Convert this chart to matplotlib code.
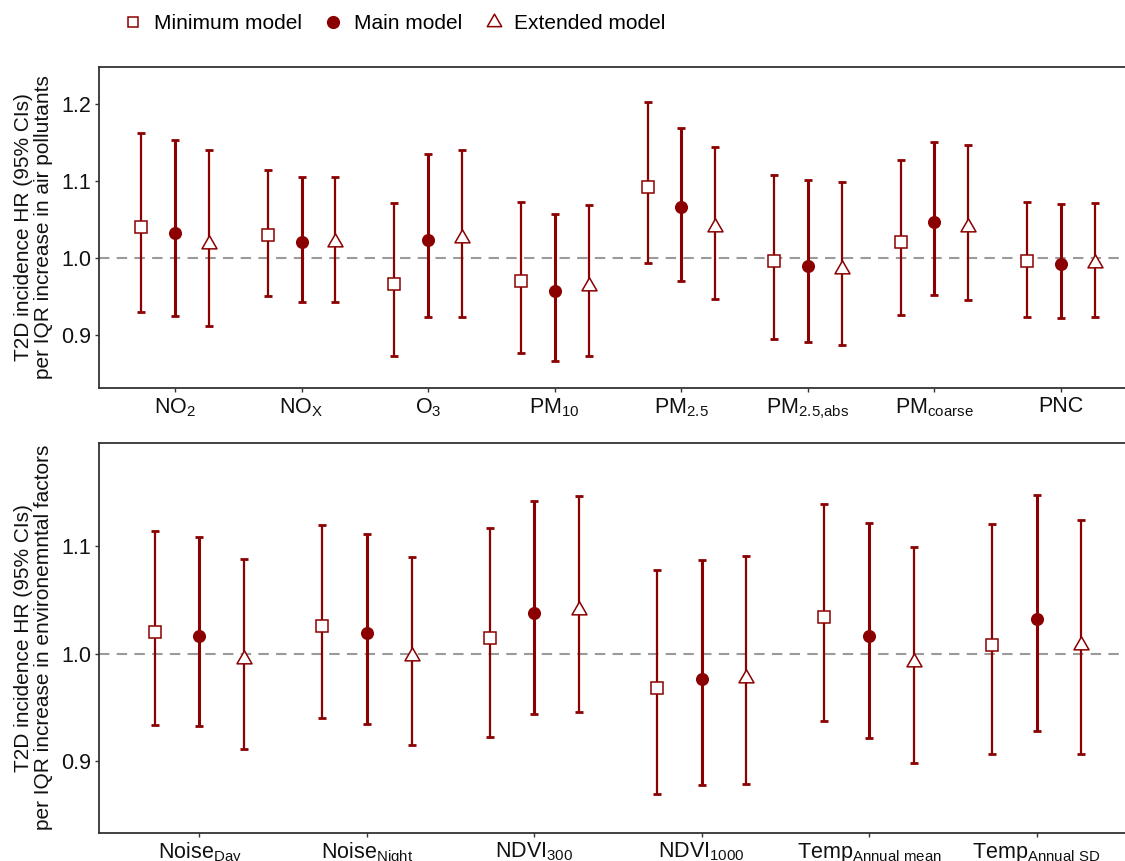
import numpy as np
import matplotlib.pyplot as plt
from matplotlib.lines import Line2D
from matplotlib.path import Path

plt.rcParams['font.family'] = ['Liberation Sans', 'DejaVu Sans']
plt.rcParams['mathtext.fontset'] = 'custom'
plt.rcParams['mathtext.rm'] = 'Liberation Sans'
plt.rcParams['mathtext.it'] = 'Liberation Sans'

# ---- air pollutants (top panel) ----
air_labels = [r'$\mathregular{NO_2}$', r'$\mathregular{NO_X}$', r'$\mathregular{O_3}$',
              r'$\mathregular{PM_{10}}$', r'$\mathregular{PM_{2.5}}$', r'$\mathregular{PM_{2.5{,}abs}}$',
              r'$\mathregular{PM_{coarse}}$', 'PNC']
air_min = [1.040, 1.030, 0.967, 0.970, 1.093, 0.996, 1.021, 0.996]
air_min_lo = [0.930, 0.951, 0.873, 0.877, 0.994, 0.895, 0.926, 0.924]
air_min_hi = [1.163, 1.115, 1.072, 1.073, 1.202, 1.108, 1.127, 1.073]
air_main = [1.033, 1.021, 1.024, 0.958, 1.066, 0.990, 1.047, 0.993]
air_main_lo = [0.925, 0.944, 0.924, 0.867, 0.971, 0.892, 0.952, 0.923]
air_main_hi = [1.154, 1.105, 1.135, 1.058, 1.169, 1.102, 1.151, 1.070]
air_ext = [1.019, 1.021, 1.026, 0.964, 1.040, 0.986, 1.040, 0.994]
air_ext_lo = [0.912, 0.944, 0.924, 0.873, 0.947, 0.888, 0.946, 0.924]
air_ext_hi = [1.141, 1.106, 1.140, 1.069, 1.144, 1.099, 1.147, 1.072]

# ---- environmental factors (bottom panel) ----
env_labels = [r'$\mathregular{Noise_{Day}}$', r'$\mathregular{Noise_{Night}}$',
              r'$\mathregular{NDVI_{300}}$', r'$\mathregular{NDVI_{1000}}$',
              r'$\mathregular{Temp_{Annual\ mean}}$', r'$\mathregular{Temp_{Annual\ SD}}$']
env_min = [1.020, 1.026, 1.015, 0.968, 1.034, 1.008]
env_min_lo = [0.934, 0.940, 0.923, 0.870, 0.938, 0.907]
env_min_hi = [1.114, 1.120, 1.117, 1.078, 1.139, 1.121]
env_main = [1.017, 1.019, 1.038, 0.977, 1.017, 1.032]
env_main_lo = [0.933, 0.935, 0.944, 0.878, 0.922, 0.928]
env_main_hi = [1.109, 1.111, 1.142, 1.087, 1.122, 1.148]
env_ext = [0.995, 0.998, 1.041, 0.978, 0.992, 1.008]
env_ext_lo = [0.912, 0.915, 0.946, 0.879, 0.899, 0.907]
env_ext_hi = [1.088, 1.090, 1.147, 1.091, 1.099, 1.124]

red = '#8B0000'
tri = Path([(-1, -0.577), (1, -0.577), (0, 1.155), (-1, -0.577)],
           [Path.MOVETO, Path.LINETO, Path.LINETO, Path.CLOSEPOLY])
dodge = 0.267


def draw_panel(ax, labels, series, ylim, yticks, ylabel):
    x = np.arange(1, len(labels) + 1)
    ax.axhline(1.0, color='#9a9a9a', lw=1.5, ls=(0, (5, 3.5)), zorder=1)
    styles = [
        dict(offset=-dodge, marker='s', ms=8.6, mfc='white', lw=1.6),
        dict(offset=0.0, marker='o', ms=8.3, mfc=red, lw=2.2),
        dict(offset=dodge, marker=tri, ms=12.5, mfc='white', lw=1.6),
    ]
    for (est, lo, hi), st in zip(series, styles):
        est = np.array(est)
        err = [est - np.array(lo), np.array(hi) - est]
        ax.errorbar(x + st['offset'], est, yerr=err, fmt='none', ecolor=red,
                    elinewidth=st['lw'], capsize=3.2, capthick=2.0, zorder=2)
        ax.plot(x + st['offset'], est, ls='none', marker=st['marker'], ms=st['ms'],
                mfc=st['mfc'], mec=red, mew=1.1, zorder=3)
    ax.set_xlim(0.4, len(labels) + 0.6)
    ax.set_ylim(*ylim)
    ax.set_yticks(yticks)
    ax.set_yticklabels([f'{t:.1f}' for t in yticks])
    ax.set_xticks(x)
    ax.set_xticklabels(labels)
    ax.tick_params(axis='both', labelsize=15.5, colors='#333333', labelcolor='#111111',
                   length=3, width=1.0)
    ax.tick_params(axis='x', pad=3)
    ax.tick_params(axis='y', pad=2.5)
    for s in ax.spines.values():
        s.set_linewidth(1.3)
        s.set_color('#333333')
    ax.set_ylabel(ylabel, fontsize=15, color='#111111', linespacing=1.05, labelpad=6)


fig = plt.figure(figsize=(11.25, 8.61), dpi=100)
ax1 = fig.add_axes([0.088, 0.5494, 0.9227, 0.3728])
ax2 = fig.add_axes([0.088, 0.0331, 0.9227, 0.4524])

draw_panel(ax1, air_labels,
           [(air_min, air_min_lo, air_min_hi), (air_main, air_main_lo, air_main_hi),
            (air_ext, air_ext_lo, air_ext_hi)],
           (0.832, 1.248), [0.9, 1.0, 1.1, 1.2],
           'T2D incidence HR (95% CIs)\nper IQR increase in air pollutants')
draw_panel(ax2, env_labels,
           [(env_min, env_min_lo, env_min_hi), (env_main, env_main_lo, env_main_hi),
            (env_ext, env_ext_lo, env_ext_hi)],
           (0.834, 1.196), [0.9, 1.0, 1.1],
           'T2D incidence HR (95% CIs)\nper IQR increase in environemntal factors')

handles = [
    Line2D([], [], ls='none', marker='s', ms=7.5, mfc='white', mec=red, mew=1.1),
    Line2D([], [], ls='none', marker='o', ms=8.5, mfc=red, mec=red),
    Line2D([], [], ls='none', marker=tri, ms=12, mfc='white', mec=red, mew=1.1),
]
fig.legend(handles, ['Minimum model', 'Main model', 'Extended model'], ncol=3,
           loc='upper left', bbox_to_anchor=(0.0925, 1.005), frameon=False, fontsize=15,
           handlelength=1.0, handletextpad=0.5, columnspacing=1.0)

fig.savefig('out.png', dpi=100)
